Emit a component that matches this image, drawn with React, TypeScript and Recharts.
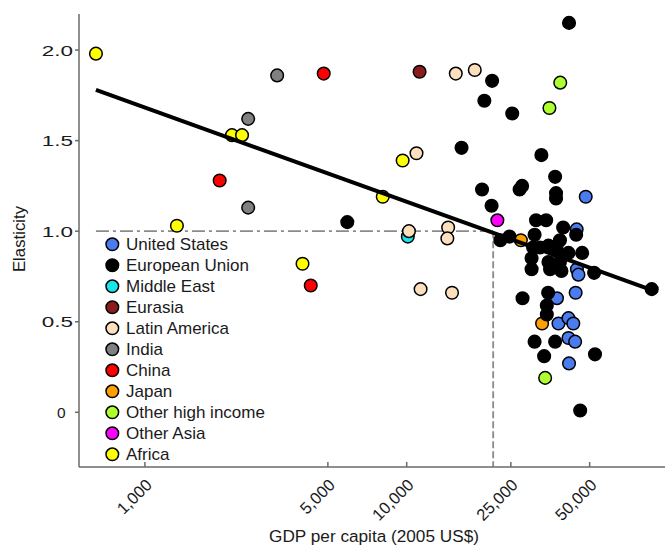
import React from 'react';
import { ScatterChart, Scatter, XAxis, YAxis, ReferenceLine, Legend, Label } from 'recharts';

// [GDP per capita (2005 US$), elasticity]
const unitedStates: number[][] = [
  [48300, 1.19], [44600, 1.01], [44700, 0.79], [45300, 0.76], [44200, 0.66], [37500, 0.63],
  [38000, 0.49], [41500, 0.52], [43300, 0.49], [41500, 0.41], [44000, 0.39], [41700, 0.27],
];
const europeanUnion: number[][] = [
  [5930, 1.05], [41700, 2.15], [21200, 1.83], [19800, 1.72], [25300, 1.65], [16200, 1.46],
  [32700, 1.42], [36900, 1.30], [37200, 1.21], [37200, 1.18], [19400, 1.23], [27000, 1.23],
  [27600, 1.25], [21100, 1.14], [31200, 1.06], [34100, 1.06], [39600, 1.02], [44400, 0.98],
  [30800, 0.98], [22800, 0.95], [24700, 0.97], [30400, 0.91], [32300, 0.91], [34800, 0.92],
  [37400, 0.92], [38500, 0.95], [41500, 0.88], [46800, 0.88], [37400, 0.89], [30000, 0.85],
  [34800, 0.83], [38500, 0.83], [30000, 0.79], [35300, 0.79], [39000, 0.78], [52000, 0.77],
  [27700, 0.63], [34700, 0.66], [34300, 0.59], [34300, 0.54], [30800, 0.39], [36900, 0.39],
  [33500, 0.31], [52400, 0.32], [46000, 0.01], [86300, 0.68],
];
const middleEast: number[][] = [[10100, 0.97]];
const eurasia: number[][] = [[11200, 1.88]];
const latinAmerica: number[][] = [
  [15400, 1.87], [18200, 1.89], [10900, 1.43], [10200, 1.0], [14400, 1.02], [14300, 0.96],
  [11300, 0.68], [14900, 0.66],
];
const india: number[][] = [[3200, 1.86], [2480, 1.62], [2480, 1.13]];
const china: number[][] = [[4820, 1.87], [1930, 1.28], [4300, 0.70]];
const japan: number[][] = [[27300, 0.95], [32900, 0.49]];
const otherHighIncome: number[][] = [[38600, 1.82], [35100, 1.68], [33800, 0.19]];
const otherAsia: number[][] = [[22200, 1.06]];
const africa: number[][] = [
  [650, 1.98], [1325, 1.03], [2150, 1.53], [2350, 1.53], [4000, 0.82], [8100, 1.19], [9650, 1.39],
];

const fitLine: number[][] = [[650, 1.78], [86500, 0.675]];
const thresholdGdp = 21400;
const thresholdElasticity = 1.0;
const minGdp = 650;

const xTicks = [1000, 5000, 10000, 25000, 50000];
const xTickLabels = ['1,000', '5,000', '10,000', '25,000', '50,000'];
const yTicks = [0, 0.5, 1.0, 1.5, 2.0];
const yTickLabels = ['0', '0.5', '1.0', '1.5', '2.0'];

const groups = [
  { name: 'United States', color: '#4A7CF0', points: unitedStates },
  { name: 'European Union', color: '#000000', points: europeanUnion },
  { name: 'Middle East', color: '#18E4EC', points: middleEast },
  { name: 'Eurasia', color: '#8B1C1C', points: eurasia },
  { name: 'Latin America', color: '#FCE0BE', points: latinAmerica },
  { name: 'India', color: '#808080', points: india },
  { name: 'China', color: '#FF0000', points: china },
  { name: 'Japan', color: '#FFA000', points: japan },
  { name: 'Other high income', color: '#ADFF2F', points: otherHighIncome },
  { name: 'Other Asia', color: '#FF00FF', points: otherAsia },
  { name: 'Africa', color: '#FFFF00', points: africa },
];
const drawOrder = [
  'Middle East', 'Latin America', 'Eurasia', 'India', 'China', 'Africa', 'United States',
  'Japan', 'Other high income', 'Other Asia', 'European Union',
];

const FONT = '"Liberation Sans", Arial, Helvetica, sans-serif';
const AXIS = '#6a6a6a';
const TEXT = '#1a1a1a';

const toObjs = (pts: number[][]) => pts.map(([gdp, e]) => ({ gdp, e }));

const XTick = (props: any) => {
  const { x, y, payload } = props;
  const i = xTicks.indexOf(payload.value);
  const tx = x + 8;
  const ty = y + 19;
  return (
    <g>
      <line x1={x} x2={x} y1={y} y2={y - 5} stroke={AXIS} strokeWidth={1.5} />
      <text x={tx} y={ty} transform={`rotate(-45 ${tx} ${ty})`} textAnchor="end" fontSize={16.5} fill={TEXT} fontFamily={FONT}>
        {i >= 0 ? xTickLabels[i] : payload.value}
      </text>
    </g>
  );
};

const YTick = (props: any) => {
  const { x, y, payload } = props;
  const i = yTicks.indexOf(payload.value);
  const label = i >= 0 ? yTickLabels[i] : String(payload.value);
  if (label === '0') {
    return (
      <text x={x - 7.5} y={y} dy="0.36em" textAnchor="end" fontSize={15.5} fill={TEXT} fontFamily={FONT}>
        {label}
      </text>
    );
  }
  return (
    <g transform={`translate(${x},${y}) scale(1.45,1)`}>
      <text x={0} y={0} dy="0.36em" textAnchor="end" fontSize={15.5} fill={TEXT} fontFamily={FONT}>
        {label}
      </text>
    </g>
  );
};

const LegendContent = () => (
  <svg width={200} height={235} style={{ display: 'block', overflow: 'visible' }}>
    {groups.map((g, i) => (
      <g key={g.name}>
        <circle cx={8.3} cy={10.3 + i * 21} r={6.3} fill={g.color} stroke="#000" strokeWidth={1.5} />
        <text x={22} y={10.3 + i * 21} dy="0.36em" fontSize={17} fill={TEXT} fontFamily={FONT}>
          {g.name}
        </text>
      </g>
    ))}
  </svg>
);

export default function App() {
  return (
    <div style={{ position: 'absolute', left: 0, top: 0, width: 665, height: 545, background: '#fff' }}>
      <ScatterChart width={665} height={545} margin={{ top: 14, right: 0, bottom: 38, left: 0 }}>
        <XAxis
          type="number"
          dataKey="gdp"
          scale="log"
          domain={[560, 97000]}
          allowDataOverflow
          ticks={xTicks}
          height={40}
          tickSize={0}
          tickMargin={0}
          tickLine={false}
          tick={<XTick />}
          axisLine={{ stroke: AXIS, strokeWidth: 1.5 }}
        >
          <Label
            content={() => (
              <text x={374} y={542} textAnchor="middle" fontSize={17.2} fill={TEXT} fontFamily={FONT}>
                GDP per capita (2005 US$)
              </text>
            )}
          />
        </XAxis>
        <YAxis
          type="number"
          dataKey="e"
          domain={[-0.302, 2.199]}
          allowDataOverflow
          ticks={yTicks}
          width={79}
          tickSize={4}
          tickLine={{ stroke: AXIS, strokeWidth: 1.5 }}
          tick={<YTick />}
          axisLine={{ stroke: AXIS, strokeWidth: 1.5 }}
        >
          <Label
            content={() => (
              <text x={25} y={239} transform="rotate(-90 25 239)" textAnchor="middle" fontSize={16.8} fill={TEXT} fontFamily={FONT}>
                Elasticity
              </text>
            )}
          />
        </YAxis>
        <ReferenceLine
          segment={[{ x: minGdp, y: thresholdElasticity }, { x: thresholdGdp, y: thresholdElasticity }]}
          stroke="#8a8a8a"
          strokeWidth={1.8}
          strokeDasharray="13 4 3 4"
        />
        <ReferenceLine
          segment={[{ x: thresholdGdp, y: thresholdElasticity }, { x: thresholdGdp, y: -0.302 }]}
          stroke="#8a8a8a"
          strokeWidth={1.8}
          strokeDasharray="7 3"
        />
        {drawOrder.map((name) => {
          const g = groups.find((gg) => gg.name === name)!;
          return (
            <Scatter
              key={name}
              name={name}
              data={toObjs(g.points)}
              fill={g.color}
              isAnimationActive={false}
              shape={(p: any) => (
                <circle cx={p.cx} cy={p.cy} r={6.3} fill={g.color} stroke="#000" strokeWidth={1.5} />
              )}
            />
          );
        })}
        <Scatter
          name="fit"
          data={toObjs(fitLine)}
          isAnimationActive={false}
          legendType="none"
          line={{ stroke: '#000', strokeWidth: 4 }}
          shape={() => <g />}
        />
        <Legend
          layout="vertical"
          align="center"
          verticalAlign="middle"
          wrapperStyle={{ position: 'absolute', left: 104, top: 234, width: 200, height: 235 }}
          content={() => <LegendContent />}
        />
      </ScatterChart>
    </div>
  );
}
